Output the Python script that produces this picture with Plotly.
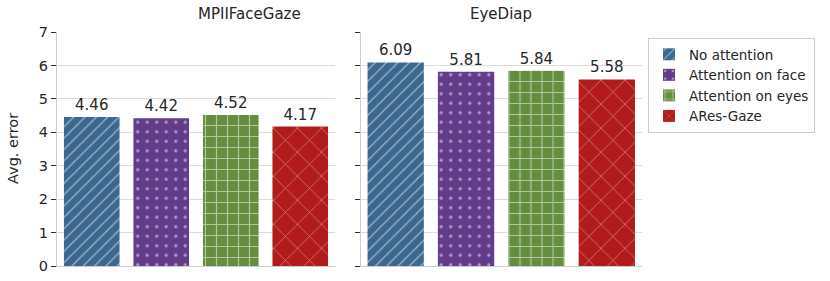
import plotly.graph_objects as go

datasets = ["MPIIFaceGaze", "EyeDiap"]
methods = ["No attention", "Attention on face", "Attention on eyes", "ARes-Gaze"]
mpii_values = [4.46, 4.42, 4.52, 4.17]
eyediap_values = [6.09, 5.81, 5.84, 5.58]
y_ticks = [0, 1, 2, 3, 4, 5, 6, 7]

colors = ["#3c6890", "#623c8a", "#648d3e", "#b21b1b"]
shapes = ["/", ".", "+", "x"]
sizes = [8, 9.5, 11, 17]
solids = [0.16, 0.09, 0.2, 0.075]

W, H = 830, 281
TXT = "#262626"
FONT = "DejaVu Sans"

def px_x(v):
    return v / W

def px_y(v):
    return 1 - v / H

fig = go.Figure()
series = [mpii_values, eyediap_values]
for p, vals in enumerate(series):
    xa = "x" if p == 0 else "x2"
    ya = "y" if p == 0 else "y2"
    for i, m in enumerate(methods):
        fig.add_trace(go.Bar(
            x=[m], y=[vals[i]], name=m, legendgroup=m, showlegend=(p == 0),
            xaxis=xa, yaxis=ya,
            marker=dict(color=colors[i], line=dict(width=0),
                        pattern=dict(shape=shapes[i], fgcolor="white", bgcolor=colors[i],
                                     size=sizes[i], solidity=solids[i])),
            texttemplate="%{y:.2f}", textposition="outside",
            textfont=dict(size=15, color=TXT, family=FONT),
            cliponaxis=False, width=0.8,
        ))

y_dom = [px_y(266), px_y(32)]
common_y = dict(range=[0, 7], tickvals=y_ticks, showgrid=True, gridcolor="#dcdcdc", gridwidth=1,
                showline=True, linecolor="#cccccc", linewidth=1, ticks="outside", ticklen=5,
                tickcolor="#333333", tickwidth=1, zeroline=False, domain=y_dom, automargin=False,
                tickfont=dict(size=14.5, color=TXT, family=FONT))
common_x = dict(showticklabels=False, showline=True, linecolor="#cccccc", linewidth=1,
                ticks="", showgrid=False, zeroline=False, range=[-0.5, 3.5], automargin=False,
                categoryorder="array", categoryarray=methods)

fig.update_layout(
    width=W, height=H, margin=dict(l=0, r=0, t=0, b=0, pad=0, autoexpand=False),
    paper_bgcolor="white", plot_bgcolor="white",
    font=dict(family=FONT, color=TXT),
    bargap=0.2,
    xaxis=dict(domain=[px_x(57), px_x(335)], anchor="y", **common_x),
    xaxis2=dict(domain=[px_x(360.5), px_x(642)], anchor="y2", **common_x),
    yaxis=dict(anchor="x", showticklabels=True, **common_y),
    yaxis2=dict(anchor="x2", showticklabels=False, **common_y),
    legend=dict(x=px_x(648), y=px_y(38), xanchor="left", yanchor="top",
                bordercolor="#cccccc", borderwidth=1, bgcolor="white",
                font=dict(size=13.5, color=TXT, family=FONT), tracegroupgap=0),
    annotations=[
        dict(text=datasets[0], x=px_x(196), y=px_y(14), xref="paper", yref="paper",
             showarrow=False, font=dict(size=15, color=TXT, family=FONT), yanchor="middle"),
        dict(text=datasets[1], x=px_x(501), y=px_y(14), xref="paper", yref="paper",
             showarrow=False, font=dict(size=15, color=TXT, family=FONT), yanchor="middle"),
        dict(text="Avg. error", x=px_x(13), y=px_y(149), xref="paper", yref="paper",
             showarrow=False, textangle=-90, font=dict(size=14.5, color=TXT, family=FONT),
             xanchor="center", yanchor="middle"),
    ],
)

fig.write_html("out.html", config={"displayModeBar": False},
               post_script="document.body.style.margin='0px';document.body.style.overflow='hidden';")
